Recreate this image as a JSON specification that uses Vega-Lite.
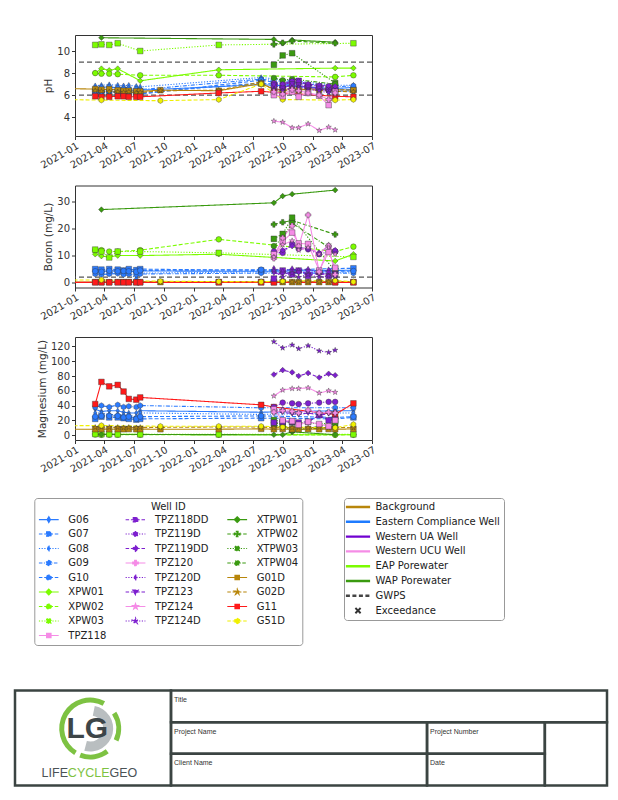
{
  "$schema": "https://vega.github.io/schema/vega-lite/v6.json",
  "background": "white",
  "padding": {"left": 13, "top": 34, "right": 5, "bottom": 5},
  "spacing": 13.5,
  "config": {
    "font": "DejaVu Sans",
    "view": {"stroke": "#333", "strokeWidth": 1},
    "axis": {"domain": false, "grid": false, "labelFontSize": 10, "titleFontSize": 10.5, "labelColor": "#333", "titleColor": "#333", "tickColor": "#333", "tickSize": 3.5, "labelPadding": 2, "titleFontWeight": "normal", "titlePadding": 3}
  },
  "resolve": {
    "scale": {"color": "independent", "shape": "independent", "strokeDash": "independent", "fill": "independent", "x": "independent", "y": "independent"},
    "legend": {"color": "independent", "shape": "independent", "strokeDash": "independent", "fill": "independent"}
  },
  "datasets": {
    "gwps": [
      {"param": "pH", "limit": 9.0},
      {"param": "pH", "limit": 6.0},
      {"param": "boron", "limit": 2.0}
    ],
    "cats": [
      {"category": "Background"},
      {"category": "Eastern Compliance Well"},
      {"category": "Western UA Well"},
      {"category": "Western UCU Well"},
      {"category": "EAP Porewater"},
      {"category": "WAP Porewater"},
      {"category": "GWPS"},
      {"category": "Exceedance"}
    ],
    "cells": [
      {"cell": "logo", "label": "", "x0": 0, "x1": 26.35, "y0": 0, "y1": 3},
      {"cell": "title", "label": "Title", "x0": 26.35, "x1": 100, "y0": 0, "y1": 1},
      {"cell": "pname", "label": "Project Name", "x0": 26.35, "x1": 69.6, "y0": 1, "y1": 2},
      {"cell": "pnum", "label": "Project Number", "x0": 69.6, "x1": 89.5, "y0": 1, "y1": 2},
      {"cell": "client", "label": "Client Name", "x0": 26.35, "x1": 69.6, "y0": 2, "y1": 3},
      {"cell": "date", "label": "Date", "x0": 69.6, "x1": 89.5, "y0": 2, "y1": 3},
      {"cell": "blank", "label": "", "x0": 89.5, "x1": 100, "y0": 1, "y1": 3}
    ],
    "samples": [
      {"well": "G06", "date": "2021-03-04", "pH": 6.5, "boron": 4.5, "mg": 35},
      {"well": "G06", "date": "2021-03-23", "pH": 6.45, "boron": 4.3, "mg": 32},
      {"well": "G06", "date": "2021-04-16", "pH": 6.55, "boron": 4.2, "mg": 33},
      {"well": "G06", "date": "2021-05-12", "pH": 6.5, "boron": 4.5, "mg": 33},
      {"well": "G06", "date": "2021-05-30", "pH": 6.45, "boron": 4.0, "mg": 31},
      {"well": "G06", "date": "2021-06-15", "pH": 6.5, "boron": 4.4, "mg": 30},
      {"well": "G06", "date": "2021-07-08", "pH": 6.4, "boron": 4.0, "mg": 30},
      {"well": "G06", "date": "2021-07-20", "pH": 6.45, "boron": 4.3, "mg": 33},
      {"well": "G06", "date": "2022-07-26", "pH": 6.95, "boron": 4.2, "mg": 31},
      {"well": "G06", "date": "2023-03-10", "pH": 6.6, "boron": 4.5, "mg": 33},
      {"well": "G06", "date": "2023-05-05", "pH": 6.7, "boron": 4.6, "mg": 33},
      {"well": "G07", "date": "2021-03-04", "pH": 6.3, "boron": 5.0, "mg": 22},
      {"well": "G07", "date": "2021-03-23", "pH": 6.2, "boron": 4.8, "mg": 25},
      {"well": "G07", "date": "2021-04-16", "pH": 6.3, "boron": 5.0, "mg": 24},
      {"well": "G07", "date": "2021-05-12", "pH": 6.25, "boron": 4.8, "mg": 24},
      {"well": "G07", "date": "2021-05-30", "pH": 6.2, "boron": 4.5, "mg": 23},
      {"well": "G07", "date": "2021-06-15", "pH": 6.3, "boron": 5.0, "mg": 22},
      {"well": "G07", "date": "2021-07-08", "pH": 6.2, "boron": 4.6, "mg": 21},
      {"well": "G07", "date": "2021-07-20", "pH": 6.2, "boron": 5.0, "mg": 22},
      {"well": "G07", "date": "2022-07-26", "pH": 7.1, "boron": 4.5, "mg": 23},
      {"well": "G07", "date": "2023-03-10", "pH": 6.5, "boron": 5.2, "mg": 22},
      {"well": "G07", "date": "2023-05-05", "pH": 6.5, "boron": 5.3, "mg": 24},
      {"well": "G08", "date": "2021-03-04", "pH": 6.85, "boron": 3.8, "mg": 30},
      {"well": "G08", "date": "2021-03-23", "pH": 6.9, "boron": 3.5, "mg": 30},
      {"well": "G08", "date": "2021-04-16", "pH": 6.95, "boron": 3.6, "mg": 28},
      {"well": "G08", "date": "2021-05-12", "pH": 6.9, "boron": 3.8, "mg": 28},
      {"well": "G08", "date": "2021-05-30", "pH": 6.85, "boron": 3.4, "mg": 27},
      {"well": "G08", "date": "2021-06-15", "pH": 6.9, "boron": 3.6, "mg": 27},
      {"well": "G08", "date": "2021-07-08", "pH": 6.8, "boron": 1.5, "mg": 25},
      {"well": "G08", "date": "2021-07-20", "pH": 6.75, "boron": 3.5, "mg": 30},
      {"well": "G08", "date": "2022-07-26", "pH": 7.6, "boron": 4.0, "mg": 28},
      {"well": "G08", "date": "2023-03-10", "pH": 6.9, "boron": 3.8, "mg": 30},
      {"well": "G08", "date": "2023-05-05", "pH": 6.9, "boron": 4.0, "mg": 30},
      {"well": "G09", "date": "2021-03-04", "pH": 6.6, "boron": 3.2, "mg": 38},
      {"well": "G09", "date": "2021-03-23", "pH": 6.7, "boron": 3.0, "mg": 40},
      {"well": "G09", "date": "2021-04-16", "pH": 6.75, "boron": 3.2, "mg": 38},
      {"well": "G09", "date": "2021-05-12", "pH": 6.65, "boron": 3.4, "mg": 41},
      {"well": "G09", "date": "2021-05-30", "pH": 6.6, "boron": 3.0, "mg": 38},
      {"well": "G09", "date": "2021-06-15", "pH": 6.6, "boron": 3.2, "mg": 39},
      {"well": "G09", "date": "2021-07-08", "pH": 6.55, "boron": 3.0, "mg": 38},
      {"well": "G09", "date": "2021-07-20", "pH": 6.5, "boron": 3.2, "mg": 40},
      {"well": "G09", "date": "2022-07-26", "pH": 7.45, "boron": 3.5, "mg": 37},
      {"well": "G09", "date": "2023-03-10", "pH": 6.75, "boron": 3.5, "mg": 37},
      {"well": "G09", "date": "2023-05-05", "pH": 6.85, "boron": 3.5, "mg": 37},
      {"well": "G10", "date": "2021-03-04", "pH": 6.2, "boron": 4.2, "mg": 25},
      {"well": "G10", "date": "2021-03-23", "pH": 6.3, "boron": 4.0, "mg": 26},
      {"well": "G10", "date": "2021-04-16", "pH": 6.35, "boron": 4.4, "mg": 26},
      {"well": "G10", "date": "2021-05-12", "pH": 6.3, "boron": 4.2, "mg": 26},
      {"well": "G10", "date": "2021-05-30", "pH": 6.25, "boron": 4.3, "mg": 24},
      {"well": "G10", "date": "2021-06-15", "pH": 6.3, "boron": 4.2, "mg": 25},
      {"well": "G10", "date": "2021-07-08", "pH": 6.15, "boron": 4.0, "mg": 22},
      {"well": "G10", "date": "2021-07-20", "pH": 6.1, "boron": 4.5, "mg": 25},
      {"well": "G10", "date": "2022-07-26", "pH": 7.35, "boron": 4.8, "mg": 26},
      {"well": "G10", "date": "2023-03-10", "pH": 6.35, "boron": 4.2, "mg": 24},
      {"well": "G10", "date": "2023-05-05", "pH": 6.4, "boron": 4.3, "mg": 25},
      {"well": "XPW01", "date": "2021-03-04", "pH": 8.0, "boron": 10.5, "mg": 2.0},
      {"well": "XPW01", "date": "2021-03-23", "pH": 8.4, "boron": 9.8, "mg": 1.0},
      {"well": "XPW01", "date": "2021-04-16", "pH": 8.25, "boron": 9.5, "mg": 1.0},
      {"well": "XPW01", "date": "2021-05-12", "pH": 8.4, "boron": 10.0, "mg": 1.0},
      {"well": "XPW01", "date": "2021-07-20", "pH": 7.3, "boron": 10.0, "mg": 1.0},
      {"well": "XPW01", "date": "2022-03-18", "pH": 8.3, "boron": 10.5, "mg": 0.5},
      {"well": "XPW01", "date": "2023-03-10", "pH": 8.45, "boron": 8.0, "mg": 0.5},
      {"well": "XPW01", "date": "2023-05-05", "pH": 8.45, "boron": 10.5, "mg": 0.5},
      {"well": "XPW02", "date": "2021-03-04", "pH": 8.0, "boron": 12.0, "mg": 0.8},
      {"well": "XPW02", "date": "2021-03-23", "pH": 7.95, "boron": 12.0, "mg": 0.5},
      {"well": "XPW02", "date": "2021-04-16", "pH": 7.95, "boron": 11.5, "mg": 0.5},
      {"well": "XPW02", "date": "2021-05-12", "pH": 7.9, "boron": 11.5, "mg": 0.5},
      {"well": "XPW02", "date": "2021-07-20", "pH": 7.8, "boron": 12.0, "mg": 0.5},
      {"well": "XPW02", "date": "2022-03-18", "pH": 7.8, "boron": 16.0, "mg": 0.5},
      {"well": "XPW02", "date": "2023-03-10", "pH": 7.65, "boron": 11.5, "mg": 0.3},
      {"well": "XPW02", "date": "2023-05-05", "pH": 7.8, "boron": 13.3, "mg": 0.5},
      {"well": "XPW03", "date": "2021-03-04", "pH": 10.55, "boron": 12.2, "mg": 1.5},
      {"well": "XPW03", "date": "2021-03-23", "pH": 10.6, "boron": 11.5, "mg": 1.2},
      {"well": "XPW03", "date": "2021-04-16", "pH": 10.55, "boron": 9.3, "mg": 1.2},
      {"well": "XPW03", "date": "2021-05-12", "pH": 10.7, "boron": 11.5, "mg": 1.0},
      {"well": "XPW03", "date": "2021-07-20", "pH": 10.0, "boron": 11.5, "mg": 1.0},
      {"well": "XPW03", "date": "2022-03-18", "pH": 10.55, "boron": 11.0, "mg": 1.0},
      {"well": "XPW03", "date": "2023-05-05", "pH": 10.7, "boron": 9.5, "mg": 1.0},
      {"well": "XTPW01", "date": "2021-03-23", "pH": 11.2, "boron": 27.0, "mg": 1.0},
      {"well": "XTPW01", "date": "2022-09-03", "pH": 11.05, "boron": 29.5, "mg": 0.5},
      {"well": "XTPW01", "date": "2022-09-30", "pH": 10.7, "boron": 32.0, "mg": 0.5},
      {"well": "XTPW01", "date": "2022-10-29", "pH": 11.0, "boron": 32.7, "mg": 4.5},
      {"well": "XTPW01", "date": "2023-03-10", "pH": 10.8, "boron": 34.2, "mg": 0.5},
      {"well": "XTPW02", "date": "2022-09-03", "pH": 10.6, "boron": 21.5, "mg": 16},
      {"well": "XTPW02", "date": "2022-09-30", "pH": 10.75, "boron": 22.3, "mg": 15},
      {"well": "XTPW02", "date": "2022-10-29", "pH": 10.9, "boron": 23.0, "mg": 5},
      {"well": "XTPW02", "date": "2023-03-10", "pH": 10.7, "boron": 17.8, "mg": 16},
      {"well": "XTPW03", "date": "2022-09-03", "pH": 8.75, "boron": 16.2, "mg": 20.5},
      {"well": "XTPW03", "date": "2022-09-30", "pH": 9.6, "boron": 18.0, "mg": 18},
      {"well": "XTPW03", "date": "2022-10-29", "pH": 9.8, "boron": 24.0, "mg": 17},
      {"well": "XTPW03", "date": "2023-03-10", "pH": 7.1, "boron": 4.2, "mg": 15},
      {"well": "XTPW04", "date": "2022-09-03", "pH": 7.55, "boron": 13.5, "mg": 13},
      {"well": "XTPW04", "date": "2022-09-30", "pH": 7.35, "boron": 16.5, "mg": 12},
      {"well": "XTPW04", "date": "2022-10-29", "pH": 7.45, "boron": 22.0, "mg": 8},
      {"well": "XTPW04", "date": "2023-03-10", "pH": 7.0, "boron": 11.5, "mg": 10},
      {"well": "G01D", "date": "2020-10-15", "pH": 6.62, "boron": 0.15, "mg": 8.0},
      {"well": "G01D", "date": "2021-03-04", "pH": 6.55, "boron": 0.2, "mg": 8.0},
      {"well": "G01D", "date": "2021-03-23", "pH": 6.5, "boron": 0.2, "mg": 8.2},
      {"well": "G01D", "date": "2021-04-16", "pH": 6.55, "boron": 0.15, "mg": 8.0},
      {"well": "G01D", "date": "2021-05-12", "pH": 6.45, "boron": 0.2, "mg": 8.1},
      {"well": "G01D", "date": "2021-05-30", "pH": 6.4, "boron": 0.2, "mg": 8.0},
      {"well": "G01D", "date": "2021-06-15", "pH": 6.4, "boron": 0.2, "mg": 8.2},
      {"well": "G01D", "date": "2021-07-08", "pH": 6.35, "boron": 0.15, "mg": 8.0},
      {"well": "G01D", "date": "2021-07-20", "pH": 6.35, "boron": 0.2, "mg": 8.1},
      {"well": "G01D", "date": "2021-09-20", "pH": 6.45, "boron": 0.2, "mg": 8.0},
      {"well": "G01D", "date": "2022-03-18", "pH": 6.4, "boron": 0.2, "mg": 8.0},
      {"well": "G01D", "date": "2022-07-26", "pH": 7.05, "boron": 0.25, "mg": 8.5},
      {"well": "G01D", "date": "2022-09-03", "pH": 6.55, "boron": 0.2, "mg": 8.0},
      {"well": "G01D", "date": "2022-09-30", "pH": 6.5, "boron": 0.2, "mg": 8.3},
      {"well": "G01D", "date": "2022-10-29", "pH": 6.6, "boron": 0.2, "mg": 8.0},
      {"well": "G01D", "date": "2022-11-18", "pH": 6.45, "boron": 0.15, "mg": 8.1},
      {"well": "G01D", "date": "2022-12-17", "pH": 6.6, "boron": 0.2, "mg": 8.2},
      {"well": "G01D", "date": "2023-01-20", "pH": 6.5, "boron": 0.2, "mg": 8.0},
      {"well": "G01D", "date": "2023-02-18", "pH": 6.6, "boron": 0.2, "mg": 8.2},
      {"well": "G01D", "date": "2023-03-10", "pH": 6.5, "boron": 0.2, "mg": 8.0},
      {"well": "G01D", "date": "2023-05-05", "pH": 6.45, "boron": 0.2, "mg": 8.3},
      {"well": "G02D", "date": "2021-03-04", "pH": 6.4, "boron": 0.3, "mg": 10.5},
      {"well": "G02D", "date": "2021-03-23", "pH": 6.35, "boron": 0.3, "mg": 11},
      {"well": "G02D", "date": "2021-04-16", "pH": 6.3, "boron": 0.3, "mg": 10.5},
      {"well": "G02D", "date": "2021-05-12", "pH": 6.3, "boron": 0.3, "mg": 10.5},
      {"well": "G02D", "date": "2021-05-30", "pH": 6.25, "boron": 0.3, "mg": 10},
      {"well": "G02D", "date": "2021-06-15", "pH": 6.3, "boron": 0.3, "mg": 10.5},
      {"well": "G02D", "date": "2021-07-08", "pH": 6.2, "boron": 0.3, "mg": 10},
      {"well": "G02D", "date": "2021-07-20", "pH": 6.25, "boron": 0.3, "mg": 10.5},
      {"well": "G02D", "date": "2021-09-20", "pH": 6.4, "boron": 0.3, "mg": 10.5},
      {"well": "G02D", "date": "2022-03-18", "pH": 6.45, "boron": 0.3, "mg": 11},
      {"well": "G02D", "date": "2022-07-26", "pH": 7.2, "boron": 0.35, "mg": 11},
      {"well": "G02D", "date": "2022-09-03", "pH": 6.4, "boron": 0.3, "mg": 10},
      {"well": "G02D", "date": "2022-09-30", "pH": 6.35, "boron": 0.3, "mg": 10.5},
      {"well": "G02D", "date": "2022-10-29", "pH": 6.5, "boron": 0.3, "mg": 10},
      {"well": "G02D", "date": "2022-11-18", "pH": 6.45, "boron": 0.3, "mg": 10.5},
      {"well": "G02D", "date": "2022-12-17", "pH": 6.55, "boron": 0.3, "mg": 10},
      {"well": "G02D", "date": "2023-01-20", "pH": 6.4, "boron": 0.3, "mg": 10.5},
      {"well": "G02D", "date": "2023-02-18", "pH": 6.45, "boron": 0.3, "mg": 10},
      {"well": "G02D", "date": "2023-03-10", "pH": 6.35, "boron": 0.3, "mg": 10.5},
      {"well": "G02D", "date": "2023-05-05", "pH": 6.3, "boron": 0.3, "mg": 10},
      {"well": "G11", "date": "2020-10-15", "boron": 0.1},
      {"well": "G11", "date": "2021-03-04", "pH": 5.9, "boron": 0.1, "mg": 42},
      {"well": "G11", "date": "2021-03-23", "pH": 5.85, "boron": 0.1, "mg": 72},
      {"well": "G11", "date": "2021-04-16", "pH": 5.85, "boron": 0.1, "mg": 66},
      {"well": "G11", "date": "2021-05-12", "pH": 5.9, "boron": 0.1, "mg": 68},
      {"well": "G11", "date": "2021-05-30", "pH": 5.9, "boron": 0.1, "mg": 59},
      {"well": "G11", "date": "2021-06-15", "pH": 5.85, "boron": 0.1, "mg": 49},
      {"well": "G11", "date": "2021-07-08", "pH": 5.85, "boron": 0.1, "mg": 48},
      {"well": "G11", "date": "2021-07-20", "pH": 5.85, "boron": 0.1, "mg": 51},
      {"well": "G11", "date": "2022-03-18", "pH": 6.2, "boron": 0.1},
      {"well": "G11", "date": "2022-07-26", "pH": 6.35, "boron": 0.1, "mg": 41},
      {"well": "G11", "date": "2022-09-03", "pH": 6.25, "boron": 0.1, "mg": 38},
      {"well": "G11", "date": "2023-03-10", "pH": 5.9, "boron": 0.1, "mg": 28},
      {"well": "G11", "date": "2023-05-05", "pH": 5.85, "boron": 0.1, "mg": 43},
      {"well": "G51D", "date": "2020-10-15", "pH": 5.62, "boron": 0.9, "mg": 12.5},
      {"well": "G51D", "date": "2021-03-23", "pH": 5.55, "boron": 1.0, "mg": 13},
      {"well": "G51D", "date": "2021-09-20", "pH": 5.5, "boron": 0.5, "mg": 12},
      {"well": "G51D", "date": "2022-03-18", "pH": 5.6, "boron": 0.4, "mg": 12},
      {"well": "G51D", "date": "2022-07-26", "pH": 7.0, "boron": 0.3, "mg": 12},
      {"well": "G51D", "date": "2022-09-30", "pH": 5.6, "boron": 0.6, "mg": 11},
      {"well": "G51D", "date": "2023-03-10", "pH": 5.55, "boron": 0.8, "mg": 10},
      {"well": "G51D", "date": "2023-05-05", "pH": 5.6, "boron": 0.3, "mg": 14.5},
      {"well": "TPZ118DD", "date": "2022-09-03", "pH": 7.0, "boron": 1.5, "mg": 17},
      {"well": "TPZ118DD", "date": "2022-09-30", "pH": 6.9, "boron": 4.5, "mg": 18},
      {"well": "TPZ118DD", "date": "2022-10-29", "pH": 7.2, "boron": 3.0, "mg": 18},
      {"well": "TPZ118DD", "date": "2022-11-18", "pH": 7.3, "boron": 4.5, "mg": 17},
      {"well": "TPZ118DD", "date": "2022-12-17", "pH": 6.9, "boron": 2.5, "mg": 18},
      {"well": "TPZ118DD", "date": "2023-01-20", "pH": 6.8, "boron": 4.0, "mg": 27},
      {"well": "TPZ118DD", "date": "2023-02-18", "pH": 6.7, "boron": 2.5, "mg": 20},
      {"well": "TPZ118DD", "date": "2023-03-10", "pH": 6.6, "boron": 3.0, "mg": 21},
      {"well": "TPZ119D", "date": "2022-09-03", "pH": 6.8, "boron": 11.5, "mg": 38},
      {"well": "TPZ119D", "date": "2022-09-30", "pH": 6.7, "boron": 11.0, "mg": 44},
      {"well": "TPZ119D", "date": "2022-10-29", "pH": 6.9, "boron": 14.3, "mg": 43},
      {"well": "TPZ119D", "date": "2022-11-18", "pH": 7.0, "boron": 12.5, "mg": 42},
      {"well": "TPZ119D", "date": "2022-12-17", "pH": 6.8, "boron": 12.3, "mg": 43},
      {"well": "TPZ119D", "date": "2023-01-20", "pH": 6.6, "boron": 10.5, "mg": 44},
      {"well": "TPZ119D", "date": "2023-02-18", "pH": 6.5, "boron": 11.5, "mg": 45},
      {"well": "TPZ119D", "date": "2023-03-10", "pH": 6.5, "boron": 11.5, "mg": 45},
      {"well": "TPZ119DD", "date": "2022-09-03", "pH": 7.1, "boron": 9.5, "mg": 82},
      {"well": "TPZ119DD", "date": "2022-09-30", "pH": 7.0, "boron": 12.0, "mg": 88},
      {"well": "TPZ119DD", "date": "2022-10-29", "pH": 7.3, "boron": 13.5, "mg": 85},
      {"well": "TPZ119DD", "date": "2022-11-18", "pH": 7.25, "boron": 13.0, "mg": 80},
      {"well": "TPZ119DD", "date": "2022-12-17", "pH": 7.0, "boron": 12.5, "mg": 84},
      {"well": "TPZ119DD", "date": "2023-01-20", "pH": 6.9, "boron": 11.0, "mg": 78},
      {"well": "TPZ119DD", "date": "2023-02-18", "pH": 6.85, "boron": 13.5, "mg": 83},
      {"well": "TPZ119DD", "date": "2023-03-10", "pH": 6.8, "boron": 12.0, "mg": 81},
      {"well": "TPZ120D", "date": "2022-09-03", "pH": 6.6, "boron": 5.3, "mg": 33},
      {"well": "TPZ120D", "date": "2022-09-30", "pH": 6.5, "boron": 4.2, "mg": 35},
      {"well": "TPZ120D", "date": "2022-10-29", "pH": 6.7, "boron": 5.2, "mg": 30},
      {"well": "TPZ120D", "date": "2022-11-18", "pH": 6.8, "boron": 4.5, "mg": 30},
      {"well": "TPZ120D", "date": "2022-12-17", "pH": 6.6, "boron": 5.0, "mg": 33},
      {"well": "TPZ120D", "date": "2023-01-20", "pH": 6.5, "boron": 3.5, "mg": 30},
      {"well": "TPZ120D", "date": "2023-02-18", "pH": 6.4, "boron": 4.8, "mg": 30},
      {"well": "TPZ120D", "date": "2023-03-10", "pH": 6.4, "boron": 5.0, "mg": 32},
      {"well": "TPZ123", "date": "2022-09-03", "pH": 6.9, "boron": 3.5, "mg": 30},
      {"well": "TPZ123", "date": "2022-09-30", "pH": 6.6, "boron": 3.0, "mg": 31},
      {"well": "TPZ123", "date": "2022-10-29", "pH": 7.0, "boron": 4.0, "mg": 29},
      {"well": "TPZ123", "date": "2022-11-18", "pH": 6.9, "boron": 3.5, "mg": 28},
      {"well": "TPZ123", "date": "2022-12-17", "pH": 6.7, "boron": 4.0, "mg": 30},
      {"well": "TPZ123", "date": "2023-01-20", "pH": 6.6, "boron": 2.8, "mg": 27},
      {"well": "TPZ123", "date": "2023-02-18", "pH": 6.3, "boron": 3.5, "mg": 29},
      {"well": "TPZ123", "date": "2023-03-10", "pH": 6.2, "boron": 3.2, "mg": 28},
      {"well": "TPZ124D", "date": "2022-09-03", "pH": 6.5, "boron": 4.5, "mg": 126.5},
      {"well": "TPZ124D", "date": "2022-09-30", "pH": 6.4, "boron": 2.0, "mg": 118},
      {"well": "TPZ124D", "date": "2022-10-29", "pH": 6.6, "boron": 3.5, "mg": 122},
      {"well": "TPZ124D", "date": "2022-11-18", "pH": 6.7, "boron": 2.0, "mg": 117},
      {"well": "TPZ124D", "date": "2022-12-17", "pH": 6.5, "boron": 3.0, "mg": 121},
      {"well": "TPZ124D", "date": "2023-01-20", "pH": 6.4, "boron": 2.0, "mg": 114},
      {"well": "TPZ124D", "date": "2023-02-18", "pH": 6.2, "boron": 2.5, "mg": 112},
      {"well": "TPZ124D", "date": "2023-03-10", "pH": 6.1, "boron": 2.2, "mg": 115},
      {"well": "TPZ118", "date": "2022-09-03", "pH": 6.0, "boron": 10.5, "mg": 35},
      {"well": "TPZ118", "date": "2022-09-30", "pH": 5.9, "boron": 15.2, "mg": 20},
      {"well": "TPZ118", "date": "2022-10-29", "pH": 6.3, "boron": 18.5, "mg": 19},
      {"well": "TPZ118", "date": "2022-11-18", "pH": 5.85, "boron": 14.5, "mg": 14},
      {"well": "TPZ118", "date": "2022-12-17", "pH": 6.2, "boron": 14.3, "mg": 18},
      {"well": "TPZ118", "date": "2023-01-20", "pH": 5.95, "boron": 4.5, "mg": 15},
      {"well": "TPZ118", "date": "2023-02-18", "pH": 5.1, "boron": 11.3, "mg": 12},
      {"well": "TPZ118", "date": "2023-03-10", "pH": 6.3, "boron": 5.5, "mg": 20},
      {"well": "TPZ120", "date": "2022-09-03", "pH": 6.3, "boron": 9.0, "mg": 31},
      {"well": "TPZ120", "date": "2022-09-30", "pH": 6.1, "boron": 16.5, "mg": 33},
      {"well": "TPZ120", "date": "2022-10-29", "pH": 6.5, "boron": 21.0, "mg": 32},
      {"well": "TPZ120", "date": "2022-11-18", "pH": 6.4, "boron": 13.5, "mg": 30},
      {"well": "TPZ120", "date": "2022-12-17", "pH": 6.2, "boron": 25.0, "mg": 34},
      {"well": "TPZ120", "date": "2023-01-20", "pH": 6.0, "boron": 4.0, "mg": 30},
      {"well": "TPZ120", "date": "2023-02-18", "pH": 5.6, "boron": 13.5, "mg": 31},
      {"well": "TPZ120", "date": "2023-03-10", "pH": 6.2, "boron": 3.0, "mg": 30},
      {"well": "TPZ124", "date": "2022-09-03", "pH": 3.65, "boron": 9.5, "mg": 53},
      {"well": "TPZ124", "date": "2022-09-30", "pH": 3.55, "boron": 14.0, "mg": 61},
      {"well": "TPZ124", "date": "2022-10-29", "pH": 3.05, "boron": 15.5, "mg": 63},
      {"well": "TPZ124", "date": "2022-11-18", "pH": 3.05, "boron": 12.0, "mg": 63},
      {"well": "TPZ124", "date": "2022-12-17", "pH": 3.4, "boron": 13.0, "mg": 64},
      {"well": "TPZ124", "date": "2023-01-20", "pH": 2.8, "boron": 10.5, "mg": 57},
      {"well": "TPZ124", "date": "2023-02-18", "pH": 3.1, "boron": 14.0, "mg": 60},
      {"well": "TPZ124", "date": "2023-03-10", "pH": 2.85, "boron": 10.5, "mg": 58}
    ]
  },
  "vconcat": [
    {
      "width": 297, "height": 101,
      "layer": [
        {
          "data": {"name": "gwps"},
          "transform": [{"filter": "datum.param === 'pH'"}],
          "mark": {"type": "rule", "strokeDash": [5, 3], "color": "#555", "strokeWidth": 1.3},
          "encoding": {"y": {"field": "limit", "type": "quantitative", "title": "pH", "scale": {"domain": [2.3, 11.45], "nice": false, "zero": false}, "axis": {"values": [4, 6, 8, 10]}}}
        },
        {
          "data": {"name": "samples"},
          "transform": [{"filter": "isValid(datum.pH)"}],
          "encoding": {
            "x": {"field": "date", "type": "temporal", "title": null, "scale": {"domain": [{"year": 2021, "month": 1, "date": 1}, {"year": 2023, "month": 7, "date": 1}], "nice": false}, "axis": {"format": "%Y-%m", "tickCount": {"interval": "month", "step": 3}, "labelOverlap": false, "labelFlush": false, "labelAngle": -30, "labelAlign": "right", "labelBaseline": "top", "labelPadding": 1}},
            "y": {"field": "pH", "type": "quantitative", "title": "pH", "scale": {"domain": [2.3, 11.45], "nice": false, "zero": false}, "axis": {"values": [4, 6, 8, 10]}},
            "color": {"field": "well", "type": "nominal", "legend": null, "scale": {"domain": ["G06","G07","G08","G09","G10","XPW01","XPW02","XPW03","G51D","TPZ118DD","TPZ119D","TPZ119DD","TPZ120","TPZ120D","TPZ123","TPZ124","TPZ124D","TPZ118","XTPW01","XTPW02","XTPW03","XTPW04","G01D","G02D","G11"], "range": ["#2b7bff","#2b7bff","#2b7bff","#2b7bff","#2b7bff","#7cfc00","#7cfc00","#7cfc00","#f0f000","#7d1fcf","#7d1fcf","#7d1fcf","#f58ce6","#7d1fcf","#7d1fcf","#f58ce6","#7d1fcf","#f58ce6","#3a9a10","#3a9a10","#3a9a10","#3a9a10","#b8860b","#b8860b","#ff1a1a"]}}
          },
          "layer": [
            {"mark": {"type": "line", "clip": true, "strokeWidth": 1.1},
             "encoding": {"strokeDash": {"field": "well", "type": "nominal", "legend": null, "scale": {"domain": ["G06","G07","G08","G09","G10","XPW01","XPW02","XPW03","G51D","TPZ118DD","TPZ119D","TPZ119DD","TPZ120","TPZ120D","TPZ123","TPZ124","TPZ124D","TPZ118","XTPW01","XTPW02","XTPW03","XTPW04","G01D","G02D","G11"], "range": [[1,0],[4,2],[1.2,1.6],[4,1.5,1,1.5],[4,2],[1,0],[4,2],[1.2,1.6],[4,2],[4,2],[1.2,1.6],[4,2],[1,0],[1.2,1.6],[4,2],[1,0],[1.2,1.6],[1,0],[1,0],[4,2],[1.2,1.6],[4,1.5,1,1.5],[1,0],[4,2],[1,0]]}}}},
            {"mark": {"type": "point", "clip": true, "filled": true, "opacity": 1, "size": 32, "stroke": "#333", "strokeWidth": 0.4},
             "encoding": {"shape": {"field": "well", "type": "nominal", "legend": null, "scale": {"domain": ["G06","G07","G08","G09","G10","XPW01","XPW02","XPW03","G51D","TPZ118DD","TPZ119D","TPZ119DD","TPZ120","TPZ120D","TPZ123","TPZ124","TPZ124D","TPZ118","XTPW01","XTPW02","XTPW03","XTPW04","G01D","G02D","G11"], "range": ["M0,-1L0.6,0L0,1L-0.6,0Z","square","M0,-1L0.6,0L0,1L-0.6,0Z","M0,-1L0.866,-0.5L0.866,0.5L0,1L-0.866,0.5L-0.866,-0.5Z","circle","diamond","circle","square","M0,-1L0.866,-0.5L0.866,0.5L0,1L-0.866,0.5L-0.866,-0.5Z","square","circle","diamond","cross","M0,-1L0.6,0L0,1L-0.6,0Z","triangle-down","M0,-1L0.235,-0.324L0.951,-0.309L0.38,0.124L0.588,0.809L0,0.4L-0.588,0.809L-0.38,0.124L-0.951,-0.309L-0.235,-0.324Z","M0,-1L0.235,-0.324L0.951,-0.309L0.38,0.124L0.588,0.809L0,0.4L-0.588,0.809L-0.38,0.124L-0.951,-0.309L-0.235,-0.324Z","square","diamond","cross","square","circle","square","M0,-1L0.235,-0.324L0.951,-0.309L0.38,0.124L0.588,0.809L0,0.4L-0.588,0.809L-0.38,0.124L-0.951,-0.309L-0.235,-0.324Z","square"]}}}}
          ]
        }
      ]
    },
    {
      "width": 297, "height": 102,
      "layer": [
        {
          "data": {"name": "gwps"},
          "transform": [{"filter": "datum.param === 'boron'"}],
          "mark": {"type": "rule", "strokeDash": [5, 3], "color": "#555", "strokeWidth": 1.3},
          "encoding": {"y": {"field": "limit", "type": "quantitative", "title": "Boron (mg/L)", "scale": {"domain": [-1.8, 35.9], "nice": false, "zero": false}, "axis": {"values": [0, 10, 20, 30]}}}
        },
        {
          "data": {"name": "samples"},
          "transform": [{"filter": "isValid(datum.boron)"}],
          "encoding": {
            "x": {"field": "date", "type": "temporal", "title": null, "scale": {"domain": [{"year": 2021, "month": 1, "date": 1}, {"year": 2023, "month": 7, "date": 1}], "nice": false}, "axis": {"format": "%Y-%m", "tickCount": {"interval": "month", "step": 3}, "labelOverlap": false, "labelFlush": false, "labelAngle": -30, "labelAlign": "right", "labelBaseline": "top", "labelPadding": 1}},
            "y": {"field": "boron", "type": "quantitative", "title": "Boron (mg/L)", "scale": {"domain": [-1.8, 35.9], "nice": false, "zero": false}, "axis": {"values": [0, 10, 20, 30]}},
            "color": {"field": "well", "type": "nominal", "legend": null, "scale": {"domain": ["G06","G07","G08","G09","G10","XPW01","XPW02","XPW03","G51D","TPZ118DD","TPZ119D","TPZ119DD","TPZ120","TPZ120D","TPZ123","TPZ124","TPZ124D","TPZ118","XTPW01","XTPW02","XTPW03","XTPW04","G01D","G02D","G11"], "range": ["#2b7bff","#2b7bff","#2b7bff","#2b7bff","#2b7bff","#7cfc00","#7cfc00","#7cfc00","#f0f000","#7d1fcf","#7d1fcf","#7d1fcf","#f58ce6","#7d1fcf","#7d1fcf","#f58ce6","#7d1fcf","#f58ce6","#3a9a10","#3a9a10","#3a9a10","#3a9a10","#b8860b","#b8860b","#ff1a1a"]}}
          },
          "layer": [
            {"mark": {"type": "line", "clip": true, "strokeWidth": 1.1},
             "encoding": {"strokeDash": {"field": "well", "type": "nominal", "legend": null, "scale": {"domain": ["G06","G07","G08","G09","G10","XPW01","XPW02","XPW03","G51D","TPZ118DD","TPZ119D","TPZ119DD","TPZ120","TPZ120D","TPZ123","TPZ124","TPZ124D","TPZ118","XTPW01","XTPW02","XTPW03","XTPW04","G01D","G02D","G11"], "range": [[1,0],[4,2],[1.2,1.6],[4,1.5,1,1.5],[4,2],[1,0],[4,2],[1.2,1.6],[4,2],[4,2],[1.2,1.6],[4,2],[1,0],[1.2,1.6],[4,2],[1,0],[1.2,1.6],[1,0],[1,0],[4,2],[1.2,1.6],[4,1.5,1,1.5],[1,0],[4,2],[1,0]]}}}},
            {"mark": {"type": "point", "clip": true, "filled": true, "opacity": 1, "size": 32, "stroke": "#333", "strokeWidth": 0.4},
             "encoding": {"shape": {"field": "well", "type": "nominal", "legend": null, "scale": {"domain": ["G06","G07","G08","G09","G10","XPW01","XPW02","XPW03","G51D","TPZ118DD","TPZ119D","TPZ119DD","TPZ120","TPZ120D","TPZ123","TPZ124","TPZ124D","TPZ118","XTPW01","XTPW02","XTPW03","XTPW04","G01D","G02D","G11"], "range": ["M0,-1L0.6,0L0,1L-0.6,0Z","square","M0,-1L0.6,0L0,1L-0.6,0Z","M0,-1L0.866,-0.5L0.866,0.5L0,1L-0.866,0.5L-0.866,-0.5Z","circle","diamond","circle","square","M0,-1L0.866,-0.5L0.866,0.5L0,1L-0.866,0.5L-0.866,-0.5Z","square","circle","diamond","cross","M0,-1L0.6,0L0,1L-0.6,0Z","triangle-down","M0,-1L0.235,-0.324L0.951,-0.309L0.38,0.124L0.588,0.809L0,0.4L-0.588,0.809L-0.38,0.124L-0.951,-0.309L-0.235,-0.324Z","M0,-1L0.235,-0.324L0.951,-0.309L0.38,0.124L0.588,0.809L0,0.4L-0.588,0.809L-0.38,0.124L-0.951,-0.309L-0.235,-0.324Z","square","diamond","cross","square","circle","square","M0,-1L0.235,-0.324L0.951,-0.309L0.38,0.124L0.588,0.809L0,0.4L-0.588,0.809L-0.38,0.124L-0.951,-0.309L-0.235,-0.324Z","square"]}}}}
          ]
        }
      ]
    },
    {
      "width": 297, "height": 103,
      "data": {"name": "samples"},
      "transform": [{"filter": "isValid(datum.mg)"}],
      "encoding": {
        "x": {"field": "date", "type": "temporal", "title": null, "scale": {"domain": [{"year": 2021, "month": 1, "date": 1}, {"year": 2023, "month": 7, "date": 1}], "nice": false}, "axis": {"format": "%Y-%m", "tickCount": {"interval": "month", "step": 3}, "labelOverlap": false, "labelFlush": false, "labelAngle": -30, "labelAlign": "right", "labelBaseline": "top", "labelPadding": 1}},
        "y": {"field": "mg", "type": "quantitative", "title": "Magnesium (mg/L)", "scale": {"domain": [-6.6, 132.8], "nice": false, "zero": false}, "axis": {"values": [0, 20, 40, 60, 80, 100, 120]}},
        "color": {"field": "well", "type": "nominal", "legend": null, "scale": {"domain": ["G06","G07","G08","G09","G10","XPW01","XPW02","XPW03","G51D","TPZ118DD","TPZ119D","TPZ119DD","TPZ120","TPZ120D","TPZ123","TPZ124","TPZ124D","TPZ118","XTPW01","XTPW02","XTPW03","XTPW04","G01D","G02D","G11"], "range": ["#2b7bff","#2b7bff","#2b7bff","#2b7bff","#2b7bff","#7cfc00","#7cfc00","#7cfc00","#f0f000","#7d1fcf","#7d1fcf","#7d1fcf","#f58ce6","#7d1fcf","#7d1fcf","#f58ce6","#7d1fcf","#f58ce6","#3a9a10","#3a9a10","#3a9a10","#3a9a10","#b8860b","#b8860b","#ff1a1a"]}}
      },
      "layer": [
        {"mark": {"type": "line", "clip": true, "strokeWidth": 1.1},
         "encoding": {"strokeDash": {"field": "well", "type": "nominal", "legend": null, "scale": {"domain": ["G06","G07","G08","G09","G10","XPW01","XPW02","XPW03","G51D","TPZ118DD","TPZ119D","TPZ119DD","TPZ120","TPZ120D","TPZ123","TPZ124","TPZ124D","TPZ118","XTPW01","XTPW02","XTPW03","XTPW04","G01D","G02D","G11"], "range": [[1,0],[4,2],[1.2,1.6],[4,1.5,1,1.5],[4,2],[1,0],[4,2],[1.2,1.6],[4,2],[4,2],[1.2,1.6],[4,2],[1,0],[1.2,1.6],[4,2],[1,0],[1.2,1.6],[1,0],[1,0],[4,2],[1.2,1.6],[4,1.5,1,1.5],[1,0],[4,2],[1,0]]}}}},
        {"mark": {"type": "point", "clip": true, "filled": true, "opacity": 1, "size": 32, "stroke": "#333", "strokeWidth": 0.4},
         "encoding": {"shape": {"field": "well", "type": "nominal", "legend": null, "scale": {"domain": ["G06","G07","G08","G09","G10","XPW01","XPW02","XPW03","G51D","TPZ118DD","TPZ119D","TPZ119DD","TPZ120","TPZ120D","TPZ123","TPZ124","TPZ124D","TPZ118","XTPW01","XTPW02","XTPW03","XTPW04","G01D","G02D","G11"], "range": ["M0,-1L0.6,0L0,1L-0.6,0Z","square","M0,-1L0.6,0L0,1L-0.6,0Z","M0,-1L0.866,-0.5L0.866,0.5L0,1L-0.866,0.5L-0.866,-0.5Z","circle","diamond","circle","square","M0,-1L0.866,-0.5L0.866,0.5L0,1L-0.866,0.5L-0.866,-0.5Z","square","circle","diamond","cross","M0,-1L0.6,0L0,1L-0.6,0Z","triangle-down","M0,-1L0.235,-0.324L0.951,-0.309L0.38,0.124L0.588,0.809L0,0.4L-0.588,0.809L-0.38,0.124L-0.951,-0.309L-0.235,-0.324Z","M0,-1L0.235,-0.324L0.951,-0.309L0.38,0.124L0.588,0.809L0,0.4L-0.588,0.809L-0.38,0.124L-0.951,-0.309L-0.235,-0.324Z","square","diamond","cross","square","circle","square","M0,-1L0.235,-0.324L0.951,-0.309L0.38,0.124L0.588,0.809L0,0.4L-0.588,0.809L-0.38,0.124L-0.951,-0.309L-0.235,-0.324Z","square"]}}}}
      ]
    },
    {
      "width": 531, "height": 298,
      "view": {"stroke": null},
      "layer": [
        {
          "data": {"name": "cells"},
          "mark": {"type": "rect", "fill": "white", "fillOpacity": 0, "stroke": "#3b4442", "strokeWidth": 2.5},
          "encoding": {
            "x": {"field": "x0", "type": "quantitative", "scale": {"domain": [0, 100], "range": [-60, 532]}, "axis": null},
            "x2": {"field": "x1"},
            "y": {"field": "y0", "type": "quantitative", "scale": {"domain": [0, 3], "range": [202, 297]}, "axis": null},
            "y2": {"field": "y1"}
          }
        },
        {
          "data": {"name": "cells"},
          "transform": [{"filter": "datum.label !== ''"}],
          "mark": {"type": "text", "align": "left", "baseline": "middle", "dx": 3, "dy": 9.5, "fontSize": 7, "font": "Liberation Sans", "color": "#333"},
          "encoding": {
            "x": {"field": "x0", "type": "quantitative"},
            "y": {"field": "y0", "type": "quantitative"},
            "text": {"field": "label"}
          }
        },
        {
          "data": {"name": "cells"},
          "transform": [{"filter": "datum.cell === 'logo'"}],
          "layer": [
            {"mark": {"type": "arc", "theta": 0.2, "theta2": 3.4, "radius": 23, "radius2": 13, "color": "#b9bec0"},
             "encoding": {"x": {"datum": 12.7, "type": "quantitative"}, "y": {"datum": 1.2, "type": "quantitative"}}},
            {"mark": {"type": "arc", "theta": -2.6, "theta2": 0.5, "radius": 31, "radius2": 26, "color": "#7dc242"},
             "encoding": {"x": {"datum": 12.7, "type": "quantitative"}, "y": {"datum": 1.2, "type": "quantitative"}}},
            {"mark": {"type": "arc", "theta": 1.0, "theta2": 2.0, "radius": 31, "radius2": 26, "color": "#7dc242"},
             "encoding": {"x": {"datum": 12.7, "type": "quantitative"}, "y": {"datum": 1.2, "type": "quantitative"}}},
            {"mark": {"type": "arc", "theta": 2.5, "theta2": 3.5, "radius": 31, "radius2": 26, "color": "#7dc242"},
             "encoding": {"x": {"datum": 12.7, "type": "quantitative"}, "y": {"datum": 1.2, "type": "quantitative"}}},
            {"mark": {"type": "text", "text": "LG", "fontSize": 30, "fontWeight": "bold", "font": "Liberation Sans", "color": "#3d4548", "align": "center", "baseline": "middle"},
             "encoding": {"x": {"datum": 12.2, "type": "quantitative"}, "y": {"datum": 1.22, "type": "quantitative"}}},
            {"mark": {"type": "text", "text": "LIFE", "fontSize": 12.5, "font": "Liberation Sans", "color": "#4a5256", "align": "right", "baseline": "middle"},
             "encoding": {"x": {"datum": 8.95, "type": "quantitative"}, "y": {"datum": 2.62, "type": "quantitative"}}},
            {"mark": {"type": "text", "text": "CYCLE", "fontSize": 12.5, "font": "Liberation Sans", "color": "#7dc242", "align": "center", "baseline": "middle"},
             "encoding": {"x": {"datum": 12.45, "type": "quantitative"}, "y": {"datum": 2.62, "type": "quantitative"}}},
            {"mark": {"type": "text", "text": "GEO", "fontSize": 12.5, "font": "Liberation Sans", "color": "#4a5256", "align": "left", "baseline": "middle"},
             "encoding": {"x": {"datum": 15.95, "type": "quantitative"}, "y": {"datum": 2.62, "type": "quantitative"}}}
          ]
        },
        {
          "data": {"name": "samples"},
          "mark": {"type": "point", "opacity": 0, "filled": true},
          "encoding": {
            "color": {"field": "well", "type": "nominal",
              "scale": {"domain": ["G06","G07","G08","G09","G10","XPW01","XPW02","XPW03","G51D","TPZ118DD","TPZ119D","TPZ119DD","TPZ120","TPZ120D","TPZ123","TPZ124","TPZ124D","TPZ118","XTPW01","XTPW02","XTPW03","XTPW04","G01D","G02D","G11"], "range": ["#2b7bff","#2b7bff","#2b7bff","#2b7bff","#2b7bff","#7cfc00","#7cfc00","#7cfc00","#f0f000","#7d1fcf","#7d1fcf","#7d1fcf","#f58ce6","#7d1fcf","#7d1fcf","#f58ce6","#7d1fcf","#f58ce6","#3a9a10","#3a9a10","#3a9a10","#3a9a10","#b8860b","#b8860b","#ff1a1a"]},
              "legend": {
                "orient": "none", "legendX": -40.7, "legendY": 9.5,
                "title": "Well ID", "titleAnchor": "middle", "titleFontSize": 10, "titleFontWeight": "normal", "titleColor": "#222", "titlePadding": 1,
                "columns": 3, "columnPadding": 15.7, "rowPadding": 2.5,
                "labelFontSize": 10, "labelColor": "#222", "labelOffset": 13,
                "symbolOffset": 4, "symbolSize": 121, "symbolStrokeWidth": 1.2, "symbolOpacity": 1,
                "padding": 4, "strokeColor": "#999", "fillColor": "white", "cornerRadius": 3,
                "encode": {"symbols": {"update": {
                  "opacity": {"value": 1},
                  "shape": {"signal": "'M-1.8,0H1.8' + ({c:'M-0.45,0A0.45,0.45,0,1,0,0.45,0A0.45,0.45,0,1,0,-0.45,0Z', s:'M-0.4,-0.4H0.4V0.4H-0.4Z', d:'M0,-0.52L0.52,0L0,0.52L-0.52,0Z', t:'M0,-0.52L0.3,0L0,0.52L-0.3,0Z', v:'M-0.5,-0.35H0.5L0,0.5Z', p:'M-0.15,-0.5H0.15V-0.15H0.5V0.15H0.15V0.5H-0.15V0.15H-0.5V-0.15H-0.15Z', a:'M0,-0.55L0.129,-0.178L0.523,-0.17L0.209,0.068L0.323,0.445L0,0.22L-0.323,0.445L-0.209,0.068L-0.523,-0.17L-0.129,-0.178Z', h:'M0,-0.48L0.42,-0.24V0.24L0,0.48L-0.42,0.24V-0.24Z'})[({G06:'t',G07:'s',G08:'t',G09:'h',G10:'c',XPW01:'d',XPW02:'c',XPW03:'s',TPZ118:'s',TPZ118DD:'s',TPZ119D:'c',TPZ119DD:'d',TPZ120:'p',TPZ120D:'t',TPZ123:'v',TPZ124:'a',TPZ124D:'a',XTPW01:'d',XTPW02:'p',XTPW03:'s',XTPW04:'c',G01D:'s',G02D:'a',G11:'s',G51D:'h'})[datum.value]]"},
                  "stroke": {"signal": "({G06:'#2b7bff',G07:'#2b7bff',G08:'#2b7bff',G09:'#2b7bff',G10:'#2b7bff',XPW01:'#7cfc00',XPW02:'#7cfc00',XPW03:'#7cfc00',TPZ118:'#f58ce6',TPZ118DD:'#7d1fcf',TPZ119D:'#7d1fcf',TPZ119DD:'#7d1fcf',TPZ120:'#f58ce6',TPZ120D:'#7d1fcf',TPZ123:'#7d1fcf',TPZ124:'#f58ce6',TPZ124D:'#7d1fcf',XTPW01:'#3a9a10',XTPW02:'#3a9a10',XTPW03:'#3a9a10',XTPW04:'#3a9a10',G01D:'#b8860b',G02D:'#b8860b',G11:'#ff1a1a',G51D:'#f0f000'})[datum.value]"},
                  "fill": {"signal": "({G06:'#2b7bff',G07:'#2b7bff',G08:'#2b7bff',G09:'#2b7bff',G10:'#2b7bff',XPW01:'#7cfc00',XPW02:'#7cfc00',XPW03:'#7cfc00',TPZ118:'#f58ce6',TPZ118DD:'#7d1fcf',TPZ119D:'#7d1fcf',TPZ119DD:'#7d1fcf',TPZ120:'#f58ce6',TPZ120D:'#7d1fcf',TPZ123:'#7d1fcf',TPZ124:'#f58ce6',TPZ124D:'#7d1fcf',XTPW01:'#3a9a10',XTPW02:'#3a9a10',XTPW03:'#3a9a10',XTPW04:'#3a9a10',G01D:'#b8860b',G02D:'#b8860b',G11:'#ff1a1a',G51D:'#f0f000'})[datum.value]"},
                  "strokeDash": {"signal": "({G06:[1,0],G07:[3.5,1.8],G08:[1.2,1.5],G09:[3.5,1.5,1,1.5],G10:[3.5,1.8],XPW01:[1,0],XPW02:[3.5,1.8],XPW03:[1.2,1.5],TPZ118:[1,0],TPZ118DD:[3.5,1.8],TPZ119D:[1.2,1.5],TPZ119DD:[3.5,1.8],TPZ120:[1,0],TPZ120D:[1.2,1.5],TPZ123:[3.5,1.8],TPZ124:[1,0],TPZ124D:[1.2,1.5],XTPW01:[1,0],XTPW02:[3.5,1.8],XTPW03:[1.2,1.5],XTPW04:[3.5,1.5,1,1.5],G01D:[1,0],G02D:[3.5,1.8],G11:[1,0],G51D:[3.5,1.8]})[datum.value]"}
                }}}
              }
            }
          }
        },
        {
          "data": {"name": "cats"},
          "mark": {"type": "point", "opacity": 0, "filled": true},
          "encoding": {
            "fill": {"field": "category", "type": "nominal",
              "scale": {"domain": ["Background", "Eastern Compliance Well", "Western UA Well", "Western UCU Well", "EAP Porewater", "WAP Porewater", "GWPS", "Exceedance"], "range": ["#b8860b", "#1e7bff", "#7000d0", "#f58ce6", "#7cfc00", "#3a9a10", "#444444", "#333333"]},
              "legend": {
                "orient": "none", "legendX": 269, "legendY": 9.5, "title": null,
                "rowPadding": 4.8, "labelFontSize": 10, "labelColor": "#222", "labelOffset": 12.5,
                "symbolOffset": 5, "symbolSize": 121, "symbolStrokeWidth": 2.4, "symbolOpacity": 1,
                "padding": 4, "strokeColor": "#999", "fillColor": "white", "cornerRadius": 3,
                "encode": {"symbols": {"update": {
                  "opacity": {"value": 1},
                  "shape": {"signal": "datum.value === 'Exceedance' ? 'M-0.6,-0.35L-0.35,-0.6L0,-0.25L0.35,-0.6L0.6,-0.35L0.25,0L0.6,0.35L0.35,0.6L0,0.25L-0.35,0.6L-0.6,0.35L-0.25,0Z' : 'M-2.2,0H2.2'"},
                  "stroke": {"signal": "({'Background':'#b8860b','Eastern Compliance Well':'#1e7bff','Western UA Well':'#7000d0','Western UCU Well':'#f58ce6','EAP Porewater':'#7cfc00','WAP Porewater':'#3a9a10','GWPS':'#444444','Exceedance':'#333333'})[datum.value]"},
                  "strokeDash": {"signal": "datum.value === 'GWPS' ? [4, 2.5] : [1, 0]"},
                  "fill": {"signal": "datum.value === 'Exceedance' ? '#333333' : 'transparent'"},
                  "strokeWidth": {"signal": "datum.value === 'Exceedance' ? 0 : 2.4"}
                }}}
              }
            }
          }
        }
      ]
    }
  ]
}
